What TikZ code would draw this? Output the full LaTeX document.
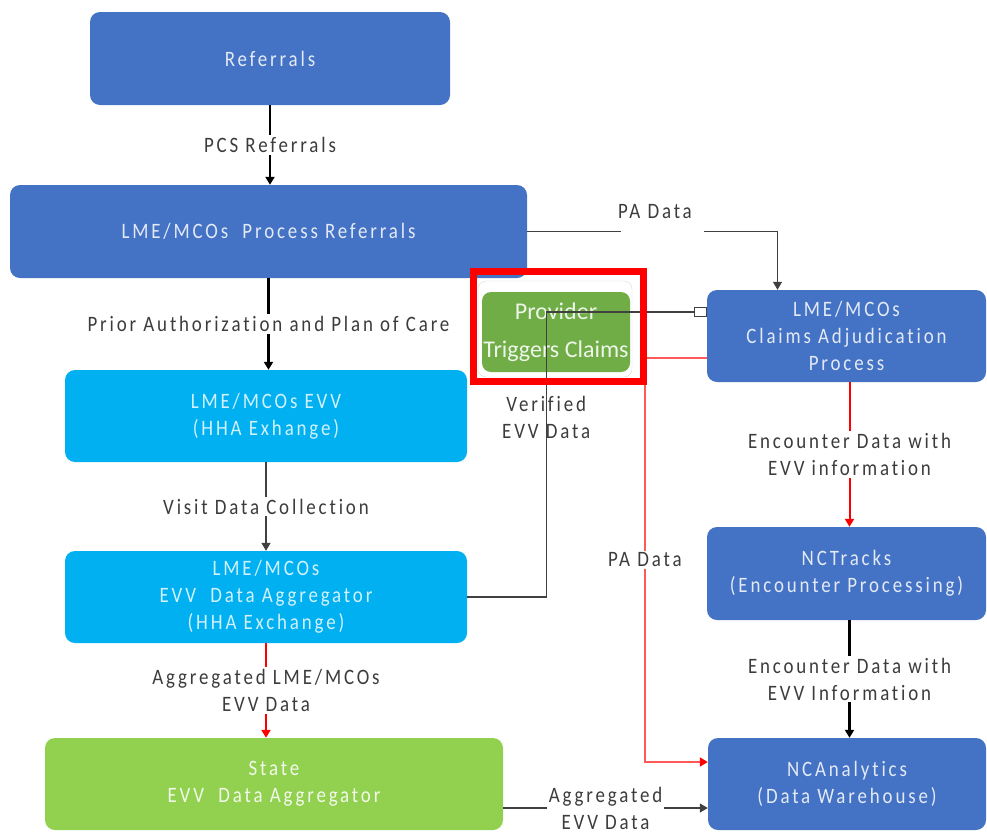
\documentclass[tikz,border=0pt]{standalone}
\usepackage{fontspec}
\setmainfont{Carlito}[FakeStretch=0.86, LetterSpace=13, Ligatures=NoCommon]
\newfontfamily\plainfont{Carlito}
\usetikzlibrary{arrows.meta}
\definecolor{dblue}{HTML}{4472C4}
\definecolor{cyanb}{HTML}{00B0F0}
\definecolor{lgreen}{HTML}{92D050}
\definecolor{mgreen}{HTML}{70AD47}
\definecolor{lbl}{HTML}{3C3C3C}
\tikzset{
  box/.style={rounded corners=10pt, draw=none, align=center, inner sep=0pt,
    font=\fontsize{22}{27}\selectfont},
  bluebox/.style={box, fill=dblue, text=white!85!dblue},
  cyanbox/.style={box, fill=cyanb, text=white!82!cyanb},
  greenbox/.style={box, fill=lgreen, text=white!88!lgreen},
  lab/.style={font=\fontsize{22}{27}\selectfont, text=lbl, align=center, fill=white, inner sep=2pt},
  labnf/.style={font=\fontsize{22}{27}\selectfont, text=lbl, align=center, inner sep=0pt},
  tip/.style={-{Triangle[width=9pt,length=8pt]}},
  thinl/.style={draw=black!75, line width=1.2pt},
  thickl/.style={draw=black, line width=2.4pt},
  redl/.style={draw=red, line width=2pt},
  pinkl/.style={draw=red!65, line width=1.8pt},
}
\begin{document}
\begin{tikzpicture}[x=1pt,y=-1pt]
\useasboundingbox (0,0) rectangle (987,833);
% boxes
\node[bluebox, minimum width=360pt, minimum height=93pt] (ref) at (270,58.5) {Referrals};
\node[bluebox, minimum width=517pt, minimum height=93pt] (proc) at (268.5,231.5) {LME/MCOs\ \ Process Referrals};
\node[cyanbox, minimum width=402pt, minimum height=92pt] (evv) at (266,416) {LME/MCOs EVV\\(HHA Exhange)};
\node[cyanbox, minimum width=402pt, minimum height=92pt] (agg) at (266,597) {LME/MCOs\\EVV\ \ Data Aggregator\\(HHA Exchange)};
\node[greenbox, minimum width=458pt, minimum height=92pt] (state) at (274,784) {State\\EVV\ \ Data Aggregator};
\node[bluebox, minimum width=279pt, minimum height=92pt] (claims) at (846.5,336) {LME/MCOs\\Claims Adjudication\\Process};
\node[bluebox, minimum width=279pt, minimum height=93pt] (nctr) at (846.5,573.5) {NCTracks\\(Encounter Processing)};
\node[bluebox, minimum width=278pt, minimum height=92pt] (nca) at (847,784) {NCAnalytics\\(Data Warehouse)};
% provider
\node[draw=black!15, fill=white, rounded corners=8pt, minimum width=154pt, minimum height=96pt, inner sep=0pt] (provbg) at (555,329) {};
\node[rounded corners=9pt, fill=mgreen, text=white!88!mgreen, minimum width=148pt, minimum height=80pt, inner sep=0pt, align=center,
  font=\plainfont\fontsize{24}{38}\selectfont] (prov) at (556,332) {Provider\\Triggers Claims};
% connectors
\draw[thickl, tip] (ref.south) -- node[lab]{PCS Referrals} (ref.south |- proc.north);
\draw[thickl, tip] (proc.south) -- node[lab]{Prior Authorization and Plan of Care} (proc.south |- evv.north);
\draw[thinl, tip] (evv.south) -- node[lab]{Visit Data Collection} (evv.south |- agg.north);
\draw[redl, -{Triangle[width=9pt,length=8pt]}] (agg.south) -- node[lab]{Aggregated LME/MCOs\\EVV Data} (agg.south |- state.north);
\draw[redl, -{Triangle[width=9pt,length=8pt]}] ([xshift=3pt]claims.south) -- node[lab]{Encounter Data with\\EVV information} ([xshift=3pt]claims.south |- nctr.north);
\draw[thickl, tip] ([xshift=3pt]nctr.south) -- node[lab]{Encounter Data with\\EVV Information} ([xshift=3pt]nctr.south |- nca.north);
\draw[thinl, tip] ([yshift=-24pt]state.east) -- node[lab]{Aggregated\\EVV Data} ([yshift=-24pt]state.east -| nca.west);
\draw[thinl, tip] (proc.east) -| node[pos=0.27, fill=white, inner sep=0pt, minimum width=83pt, minimum height=5pt]{} ([xshift=-69pt]claims.north);
\node[labnf] (padata) at (655,212) {PA Data};
\draw[pinkl, -{Triangle[width=9pt,length=8pt,fill=red,color=red]}] ([yshift=-22pt]claims.west) -- ++(-62,0) |- node[lab, pos=0.25]{PA Data} ([yshift=22pt]nca.west);
\draw[thinl, -{Square[open,length=13pt,width=10pt]}] (agg.east) -- ++(79,0) |- node[labnf, pos=0.315]{Verified\\EVV Data} ([yshift=24pt]claims.west);
% highlight
\node[draw=red, line width=7pt, minimum width=170pt, minimum height=110pt, inner sep=0pt] (hl) at (558.5,326.5) {};
\end{tikzpicture}
\end{document}
